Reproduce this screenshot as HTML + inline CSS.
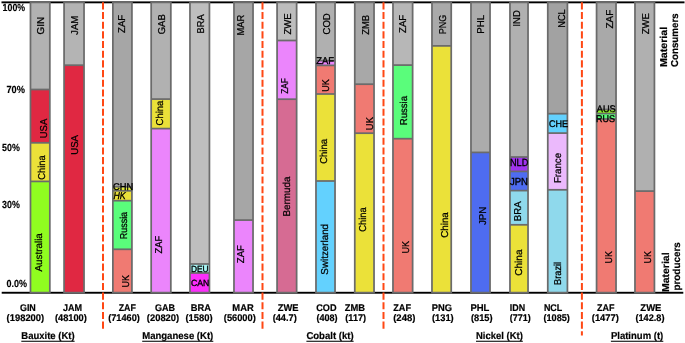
<!DOCTYPE html>
<html><head><meta charset="utf-8"><title>chart</title>
<style>
html,body{margin:0;padding:0;background:#fff;}
body{width:685px;height:343px;overflow:hidden;}
svg{display:block;will-change:transform;}
text{font-family:"Liberation Sans",sans-serif;fill:#000;text-rendering:geometricPrecision;}
.r{font-size:10px;stroke:#000;stroke-width:0.25px;}
.h{font-size:9px;stroke:#000;stroke-width:0.35px;}
.b{font-weight:bold;font-size:9.7px;stroke:#000;stroke-width:0.2px;}
.y{font-weight:bold;font-size:10.3px;stroke:#000;stroke-width:0.15px;}
</style></head><body>
<svg width="685" height="343" viewBox="0 0 685 343">
<rect x="1.5" y="1.4" width="683" height="1.9" fill="#000"/>
<rect x="1.7" y="291.8" width="681.6" height="1.9" fill="#000"/>
<line x1="103" y1="2.3" x2="103" y2="329" stroke="#ff4814" stroke-width="2" stroke-dasharray="7.1 2.575"/>
<line x1="262.5" y1="2.3" x2="262.5" y2="329" stroke="#ff4814" stroke-width="2" stroke-dasharray="7.1 2.575"/>
<line x1="383.5" y1="2.3" x2="383.5" y2="329" stroke="#ff4814" stroke-width="2" stroke-dasharray="7.1 2.575"/>
<line x1="581.9" y1="2.3" x2="581.9" y2="335.5" stroke="#ff4814" stroke-width="2" stroke-dasharray="7.1 2.575"/>
<g><rect x="29.6" y="1.5" width="21.1" height="292" fill="#6b6b6b"/><rect x="31.35" y="3.25" width="17.6" height="85.38" fill="#b2b2b2"/><rect x="31.35" y="90.38" width="17.6" height="51.55" fill="#e02842"/><rect x="31.35" y="143.68" width="17.6" height="36.85" fill="#ebe139"/><rect x="31.35" y="182.28" width="17.6" height="109.47" fill="#90fd20"/></g>
<g><rect x="63.2" y="1.5" width="21.7" height="292" fill="#6b6b6b"/><rect x="64.95" y="3.25" width="18.2" height="61.08" fill="#b4b4b4"/><rect x="64.95" y="66.08" width="18.2" height="225.68" fill="#e02842"/></g>
<g><rect x="112" y="1.5" width="20.8" height="292" fill="#6b6b6b"/><rect x="113.75" y="3.25" width="17.3" height="182.68" fill="#a6a6a6"/><rect x="113.75" y="187.68" width="17.3" height="2.25" fill="#e6ee3c"/><rect x="113.75" y="191.68" width="17.3" height="8.15" fill="#ebe139"/><rect x="113.75" y="201.57" width="17.3" height="46.85" fill="#5afd7b"/><rect x="113.75" y="250.18" width="17.3" height="41.57" fill="#f07a72"/></g>
<g><rect x="150.3" y="1.5" width="21.4" height="292" fill="#6b6b6b"/><rect x="152.05" y="3.25" width="17.9" height="94.97" fill="#b1b1b1"/><rect x="152.05" y="99.97" width="17.9" height="27.75" fill="#ebe139"/><rect x="152.05" y="129.47" width="17.9" height="162.28" fill="#eb85fc"/></g>
<g><rect x="189.1" y="1.5" width="21.2" height="292" fill="#6b6b6b"/><rect x="190.85" y="3.25" width="17.7" height="259.88" fill="#bebebe"/><rect x="190.85" y="264.88" width="17.7" height="7.25" fill="#a8f5f4"/><rect x="190.85" y="273.88" width="17.7" height="17.88" fill="#fc2efc"/></g>
<g><rect x="233.1" y="1.5" width="20.8" height="292" fill="#6b6b6b"/><rect x="234.85" y="3.25" width="17.3" height="215.97" fill="#a6a6a6"/><rect x="234.85" y="220.97" width="17.3" height="70.78" fill="#eb85fc"/></g>
<g><rect x="276.2" y="1.5" width="21.3" height="292" fill="#6b6b6b"/><rect x="277.95" y="3.25" width="17.8" height="36.38" fill="#bdbdbd"/><rect x="277.95" y="41.38" width="17.8" height="56.95" fill="#eb85fc"/><rect x="277.95" y="100.08" width="17.8" height="191.68" fill="#d66b93"/></g>
<g><rect x="315.1" y="1.5" width="20.8" height="292" fill="#6b6b6b"/><rect x="316.85" y="3.25" width="17.3" height="56.48" fill="#b0b0b0"/><rect x="316.85" y="61.48" width="17.3" height="3.05" fill="#eb85fc"/><rect x="316.85" y="66.28" width="17.3" height="26.85" fill="#f07a72"/><rect x="316.85" y="94.88" width="17.3" height="85.25" fill="#ebe139"/><rect x="316.85" y="181.88" width="17.3" height="109.88" fill="#63d1fe"/></g>
<g><rect x="353.9" y="1.5" width="21" height="292" fill="#6b6b6b"/><rect x="355.65" y="3.25" width="17.5" height="80.08" fill="#a8a8a8"/><rect x="355.65" y="85.08" width="17.5" height="47.25" fill="#f07a72"/><rect x="355.65" y="134.07" width="17.5" height="157.68" fill="#ebe139"/></g>
<g><rect x="392.1" y="1.5" width="21.4" height="292" fill="#6b6b6b"/><rect x="393.85" y="3.25" width="17.9" height="60.97" fill="#b7b7b7"/><rect x="393.85" y="65.97" width="17.9" height="71.85" fill="#5afd7b"/><rect x="393.85" y="139.57" width="17.9" height="152.18" fill="#f07a72"/></g>
<g><rect x="431.1" y="1.5" width="21" height="292" fill="#6b6b6b"/><rect x="432.85" y="3.25" width="17.5" height="41.77" fill="#aaaaaa"/><rect x="432.85" y="46.77" width="17.5" height="244.97" fill="#ebe139"/></g>
<g><rect x="470.1" y="1.5" width="20.8" height="292" fill="#6b6b6b"/><rect x="471.85" y="3.25" width="17.3" height="148.28" fill="#acacac"/><rect x="471.85" y="153.28" width="17.3" height="138.47" fill="#4e6cf0"/></g>
<g><rect x="509.1" y="1.5" width="19.8" height="292" fill="#6b6b6b"/><rect x="510.85" y="3.25" width="16.3" height="152.88" fill="#b0b0b0"/><rect x="510.85" y="157.88" width="16.3" height="12.65" fill="#a034ee"/><rect x="510.85" y="172.28" width="16.3" height="17.45" fill="#4e6cf0"/><rect x="510.85" y="191.47" width="16.3" height="32.45" fill="#8fd9ec"/><rect x="510.85" y="225.68" width="16.3" height="66.07" fill="#ebe139"/></g>
<g><rect x="546.9" y="1.5" width="21.4" height="292" fill="#6b6b6b"/><rect x="548.65" y="3.25" width="17.9" height="109.58" fill="#a2a2a2"/><rect x="548.65" y="114.58" width="17.9" height="17.65" fill="#63d1fe"/><rect x="548.65" y="133.97" width="17.9" height="54.95" fill="#ebb9fc"/><rect x="548.65" y="190.68" width="17.9" height="101.07" fill="#8fd9ec"/></g>
<g><rect x="595.7" y="1.5" width="21.2" height="292" fill="#6b6b6b"/><rect x="597.45" y="3.25" width="17.7" height="105.38" fill="#a9a9a9"/><rect x="597.45" y="110.38" width="17.7" height="2.25" fill="#90fd20"/><rect x="597.45" y="114.38" width="17.7" height="3.75" fill="#5afd7b"/><rect x="597.45" y="119.88" width="17.7" height="171.88" fill="#f07a72"/></g>
<g><rect x="634.1" y="1.5" width="21.2" height="292" fill="#6b6b6b"/><rect x="635.85" y="3.25" width="17.7" height="186.97" fill="#b0b0b0"/><rect x="635.85" y="191.97" width="17.7" height="99.78" fill="#f07a72"/></g>
<text class="r" transform="translate(40.8 25.7) rotate(-90)" x="0" y="3.54" text-anchor="middle" textLength="17.5" lengthAdjust="spacingAndGlyphs">GIN</text>
<text class="r" transform="translate(74.5 25.3) rotate(-90)" x="0" y="3.54" text-anchor="middle" textLength="19.2" lengthAdjust="spacingAndGlyphs">JAM</text>
<text class="r" transform="translate(43.1 128.5) rotate(-90)" x="0" y="3.54" text-anchor="middle" textLength="19.5" lengthAdjust="spacingAndGlyphs">USA</text>
<text class="r" transform="translate(41.1 167.5) rotate(-90)" x="0" y="3.54" text-anchor="middle" textLength="24.5" lengthAdjust="spacingAndGlyphs">China</text>
<text class="r" transform="translate(38.5 252.4) rotate(-90)" x="0" y="3.54" text-anchor="middle" textLength="38.4" lengthAdjust="spacingAndGlyphs">Australia</text>
<text class="r" transform="translate(74.4 144.9) rotate(-90)" x="0" y="3.54" text-anchor="middle" textLength="19.8" lengthAdjust="spacingAndGlyphs">USA</text>
<text class="r" transform="translate(121.2 23.9) rotate(-90)" x="0" y="3.54" text-anchor="middle" textLength="18.2" lengthAdjust="spacingAndGlyphs">ZAF</text>
<text class="r" transform="translate(123.6 225.6) rotate(-90)" x="0" y="3.54" text-anchor="middle" textLength="27.4" lengthAdjust="spacingAndGlyphs">Russia</text>
<text class="r" transform="translate(125 281.2) rotate(-90)" x="0" y="3.54" text-anchor="middle" textLength="12.5" lengthAdjust="spacingAndGlyphs">UK</text>
<text class="r" transform="translate(161.9 24.3) rotate(-90)" x="0" y="3.54" text-anchor="middle" textLength="20" lengthAdjust="spacingAndGlyphs">GAB</text>
<text class="r" transform="translate(159.5 113) rotate(-90)" x="0" y="3.54" text-anchor="middle" textLength="24.8" lengthAdjust="spacingAndGlyphs">China</text>
<text class="r" transform="translate(158.1 244.7) rotate(-90)" x="0" y="3.54" text-anchor="middle" textLength="17.5" lengthAdjust="spacingAndGlyphs">ZAF</text>
<text class="r" transform="translate(200 23.9) rotate(-90)" x="0" y="3.54" text-anchor="middle" textLength="19" lengthAdjust="spacingAndGlyphs">BRA</text>
<text class="r" transform="translate(240.9 25.2) rotate(-90)" x="0" y="3.54" text-anchor="middle" textLength="20.6" lengthAdjust="spacingAndGlyphs">MAR</text>
<text class="r" transform="translate(240.5 254.2) rotate(-90)" x="0" y="3.54" text-anchor="middle" textLength="17.9" lengthAdjust="spacingAndGlyphs">ZAF</text>
<text class="r" transform="translate(287.3 23.9) rotate(-90)" x="0" y="3.54" text-anchor="middle" textLength="21.2" lengthAdjust="spacingAndGlyphs">ZWE</text>
<text class="r" transform="translate(284.6 86) rotate(-90)" x="0" y="3.54" text-anchor="middle" textLength="15.7" lengthAdjust="spacingAndGlyphs">ZAF</text>
<text class="r" transform="translate(286.5 196.5) rotate(-90)" x="0" y="3.54" text-anchor="middle" textLength="40.1" lengthAdjust="spacingAndGlyphs">Bermuda</text>
<text class="r" transform="translate(326.3 23.9) rotate(-90)" x="0" y="3.54" text-anchor="middle" textLength="21.2" lengthAdjust="spacingAndGlyphs">COD</text>
<text class="r" transform="translate(325.6 85.6) rotate(-90)" x="0" y="3.54" text-anchor="middle" textLength="12.5" lengthAdjust="spacingAndGlyphs">UK</text>
<text class="r" transform="translate(323.8 151.4) rotate(-90)" x="0" y="3.54" text-anchor="middle" textLength="24.8" lengthAdjust="spacingAndGlyphs">China</text>
<text class="r" transform="translate(324.2 249.3) rotate(-90)" x="0" y="3.54" text-anchor="middle" textLength="50.7" lengthAdjust="spacingAndGlyphs">Switzerland</text>
<text class="r" transform="translate(365.1 24.8) rotate(-90)" x="0" y="3.54" text-anchor="middle" textLength="19.9" lengthAdjust="spacingAndGlyphs">ZMB</text>
<text class="r" transform="translate(369 123.6) rotate(-90)" x="0" y="3.54" text-anchor="middle" textLength="13.1" lengthAdjust="spacingAndGlyphs">UK</text>
<text class="r" transform="translate(362.8 219.6) rotate(-90)" x="0" y="3.54" text-anchor="middle" textLength="24.5" lengthAdjust="spacingAndGlyphs">China</text>
<text class="r" transform="translate(402.1 23.9) rotate(-90)" x="0" y="3.54" text-anchor="middle" textLength="18.2" lengthAdjust="spacingAndGlyphs">ZAF</text>
<text class="r" transform="translate(403.1 110.6) rotate(-90)" x="0" y="3.54" text-anchor="middle" textLength="29.4" lengthAdjust="spacingAndGlyphs">Russia</text>
<text class="r" transform="translate(405.2 247.3) rotate(-90)" x="0" y="3.54" text-anchor="middle" textLength="12.6" lengthAdjust="spacingAndGlyphs">UK</text>
<text class="r" transform="translate(442.2 24.6) rotate(-90)" x="0" y="3.54" text-anchor="middle" textLength="19.5" lengthAdjust="spacingAndGlyphs">PNG</text>
<text class="r" transform="translate(444 225) rotate(-90)" x="0" y="3.54" text-anchor="middle" textLength="25.6" lengthAdjust="spacingAndGlyphs">China</text>
<text class="r" transform="translate(480.4 24.3) rotate(-90)" x="0" y="3.54" text-anchor="middle" textLength="18.9" lengthAdjust="spacingAndGlyphs">PHL</text>
<text class="r" transform="translate(482.3 215.8) rotate(-90)" x="0" y="3.54" text-anchor="middle" textLength="18.5" lengthAdjust="spacingAndGlyphs">JPN</text>
<text class="r" transform="translate(516.8 18.4) rotate(-90)" x="0" y="3.54" text-anchor="middle" textLength="16.2" lengthAdjust="spacingAndGlyphs">IND</text>
<text class="r" transform="translate(517.9 211.3) rotate(-90)" x="0" y="3.54" text-anchor="middle" textLength="19.8" lengthAdjust="spacingAndGlyphs">BRA</text>
<text class="r" transform="translate(518.9 262.6) rotate(-90)" x="0" y="3.54" text-anchor="middle" textLength="26.3" lengthAdjust="spacingAndGlyphs">China</text>
<text class="r" transform="translate(561.4 18.5) rotate(-90)" x="0" y="3.54" text-anchor="middle" textLength="18.4" lengthAdjust="spacingAndGlyphs">NCL</text>
<text class="r" transform="translate(557.5 168) rotate(-90)" x="0" y="3.54" text-anchor="middle" textLength="30.2" lengthAdjust="spacingAndGlyphs">France</text>
<text class="r" transform="translate(557.2 273.4) rotate(-90)" x="0" y="3.54" text-anchor="middle" textLength="23" lengthAdjust="spacingAndGlyphs">Brazil</text>
<text class="r" transform="translate(609.9 19.1) rotate(-90)" x="0" y="3.54" text-anchor="middle" textLength="18.7" lengthAdjust="spacingAndGlyphs">ZAF</text>
<text class="r" transform="translate(608.7 257.2) rotate(-90)" x="0" y="3.54" text-anchor="middle" textLength="12.4" lengthAdjust="spacingAndGlyphs">UK</text>
<text class="r" transform="translate(645.4 23.8) rotate(-90)" x="0" y="3.54" text-anchor="middle" textLength="21.1" lengthAdjust="spacingAndGlyphs">ZWE</text>
<text class="r" transform="translate(647.2 257.2) rotate(-90)" x="0" y="3.54" text-anchor="middle" textLength="12.4" lengthAdjust="spacingAndGlyphs">UK</text>
<text class="h" style="font-size:9.8px" x="113" y="189.6" textLength="20.2" lengthAdjust="spacingAndGlyphs">CHN</text>
<text class="h" style="font-size:10px" x="113.4" y="199.1" textLength="12.2" lengthAdjust="spacingAndGlyphs" font-style="italic">HK</text>
<text class="h" style="font-size:9px" x="190.9" y="271.5" textLength="17.6" lengthAdjust="spacingAndGlyphs">DEU</text>
<text class="h" style="font-size:9px" x="190.9" y="286" textLength="18.3" lengthAdjust="spacingAndGlyphs">CAN</text>
<text class="h" style="font-size:9.8px" x="316.3" y="63.8" textLength="17.8" lengthAdjust="spacingAndGlyphs">ZAF</text>
<text class="h" style="font-size:10.4px" x="510" y="165.8" textLength="18.3" lengthAdjust="spacingAndGlyphs">NLD</text>
<text class="h" style="font-size:10.3px" x="510" y="184.9" textLength="18" lengthAdjust="spacingAndGlyphs">JPN</text>
<text class="h" style="font-size:9.6px" x="548.9" y="126.6" textLength="19.1" lengthAdjust="spacingAndGlyphs">CHE</text>
<text class="h" style="font-size:9.6px" x="596.8" y="111.9" textLength="18.9" lengthAdjust="spacingAndGlyphs">AUS</text>
<text class="h" style="font-size:9.8px" x="596" y="121.8" textLength="18.9" lengthAdjust="spacingAndGlyphs">RUS</text>
<text class="y" x="2.6" y="10.5" textLength="22.5" lengthAdjust="spacingAndGlyphs">100%</text>
<text class="y" x="6.4" y="92.6" textLength="18.5" lengthAdjust="spacingAndGlyphs">70%</text>
<text class="y" x="2.05" y="150.5" textLength="17.75" lengthAdjust="spacingAndGlyphs">50%</text>
<text class="y" x="2.05" y="208.4" textLength="17.75" lengthAdjust="spacingAndGlyphs">30%</text>
<text class="y" x="6.5" y="286.5" textLength="20.5" lengthAdjust="spacingAndGlyphs">0.0%</text>
<text class="b" x="27.9" y="310.5" text-anchor="middle" textLength="15.9" lengthAdjust="spacingAndGlyphs">GIN</text>
<text class="b" x="25.4" y="321.3" text-anchor="middle" textLength="37.6" lengthAdjust="spacingAndGlyphs">(198200)</text>
<text class="b" x="72.5" y="310.5" text-anchor="middle" textLength="19.1" lengthAdjust="spacingAndGlyphs">JAM</text>
<text class="b" x="70.9" y="321.3" text-anchor="middle" textLength="31.9" lengthAdjust="spacingAndGlyphs">(48100)</text>
<text class="b" x="127.3" y="310.5" text-anchor="middle" textLength="17.2" lengthAdjust="spacingAndGlyphs">ZAF</text>
<text class="b" x="124" y="321.3" text-anchor="middle" textLength="31.6" lengthAdjust="spacingAndGlyphs">(71460)</text>
<text class="b" x="165" y="310.5" text-anchor="middle" textLength="20.1" lengthAdjust="spacingAndGlyphs">GAB</text>
<text class="b" x="163" y="321.3" text-anchor="middle" textLength="32.3" lengthAdjust="spacingAndGlyphs">(20820)</text>
<text class="b" x="200.8" y="310.5" text-anchor="middle" textLength="20.3" lengthAdjust="spacingAndGlyphs">BRA</text>
<text class="b" x="199" y="321.3" text-anchor="middle" textLength="27.2" lengthAdjust="spacingAndGlyphs">(1580)</text>
<text class="b" x="243" y="310.5" text-anchor="middle" textLength="21.3" lengthAdjust="spacingAndGlyphs">MAR</text>
<text class="b" x="239.8" y="321.3" text-anchor="middle" textLength="32" lengthAdjust="spacingAndGlyphs">(56000)</text>
<text class="b" x="288.2" y="310.5" text-anchor="middle" textLength="20.8" lengthAdjust="spacingAndGlyphs">ZWE</text>
<text class="b" x="284.7" y="321.3" text-anchor="middle" textLength="24.1" lengthAdjust="spacingAndGlyphs">(44.7)</text>
<text class="b" x="326.4" y="310.5" text-anchor="middle" textLength="20.3" lengthAdjust="spacingAndGlyphs">COD</text>
<text class="b" x="327" y="321.3" text-anchor="middle" textLength="21.2" lengthAdjust="spacingAndGlyphs">(408)</text>
<text class="b" x="354.9" y="310.5" text-anchor="middle" textLength="20.3" lengthAdjust="spacingAndGlyphs">ZMB</text>
<text class="b" x="355.7" y="321.3" text-anchor="middle" textLength="20.7" lengthAdjust="spacingAndGlyphs">(117)</text>
<text class="b" x="402.1" y="310.5" text-anchor="middle" textLength="17.8" lengthAdjust="spacingAndGlyphs">ZAF</text>
<text class="b" x="404.3" y="321.3" text-anchor="middle" textLength="22.2" lengthAdjust="spacingAndGlyphs">(248)</text>
<text class="b" x="442" y="310.5" text-anchor="middle" textLength="20.3" lengthAdjust="spacingAndGlyphs">PNG</text>
<text class="b" x="442.8" y="321.3" text-anchor="middle" textLength="21.8" lengthAdjust="spacingAndGlyphs">(131)</text>
<text class="b" x="479.9" y="310.5" text-anchor="middle" textLength="19" lengthAdjust="spacingAndGlyphs">PHL</text>
<text class="b" x="481.8" y="321.3" text-anchor="middle" textLength="21.6" lengthAdjust="spacingAndGlyphs">(815)</text>
<text class="b" x="517.5" y="310.5" text-anchor="middle" textLength="15.3" lengthAdjust="spacingAndGlyphs">IDN</text>
<text class="b" x="520.3" y="321.3" text-anchor="middle" textLength="21" lengthAdjust="spacingAndGlyphs">(771)</text>
<text class="b" x="553.1" y="310.5" text-anchor="middle" textLength="18.4" lengthAdjust="spacingAndGlyphs">NCL</text>
<text class="b" x="556.7" y="321.3" text-anchor="middle" textLength="26.5" lengthAdjust="spacingAndGlyphs">(1085)</text>
<text class="b" x="605.8" y="310.5" text-anchor="middle" textLength="17.5" lengthAdjust="spacingAndGlyphs">ZAF</text>
<text class="b" x="605.3" y="321.3" text-anchor="middle" textLength="27" lengthAdjust="spacingAndGlyphs">(1477)</text>
<text class="b" x="650.9" y="310.5" text-anchor="middle" textLength="21.1" lengthAdjust="spacingAndGlyphs">ZWE</text>
<text class="b" x="650" y="321.3" text-anchor="middle" textLength="29.1" lengthAdjust="spacingAndGlyphs">(142.8)</text>
<text class="b" style="font-size:10px" x="21.3" y="338.8" textLength="53.3" lengthAdjust="spacingAndGlyphs">Bauxite (Kt)</text>
<rect x="21.3" y="340.7" width="53.3" height="1.2" fill="#222"/>
<text class="b" style="font-size:10px" x="142.2" y="338.8" textLength="71.1" lengthAdjust="spacingAndGlyphs">Manganese (Kt)</text>
<rect x="142.2" y="340.7" width="71.1" height="1.2" fill="#222"/>
<text class="b" style="font-size:10px" x="306.4" y="338.8" textLength="47.2" lengthAdjust="spacingAndGlyphs">Cobalt (kt)</text>
<rect x="306.4" y="340.7" width="47.2" height="1.2" fill="#222"/>
<text class="b" style="font-size:10px" x="476" y="338.8" textLength="46.8" lengthAdjust="spacingAndGlyphs">Nickel (Kt)</text>
<rect x="476" y="340.7" width="46.8" height="1.2" fill="#222"/>
<text class="b" style="font-size:10px" x="610.9" y="338.8" textLength="52.4" lengthAdjust="spacingAndGlyphs">Platinum (t)</text>
<rect x="610.9" y="340.7" width="52.4" height="1.2" fill="#222"/>
<text class="b" style="font-size:10px" transform="translate(667 67) rotate(-90)" x="0" y="0" textLength="40.2" lengthAdjust="spacingAndGlyphs">Material</text>
<text class="b" style="font-size:10px" transform="translate(678 67) rotate(-90)" x="0" y="0" textLength="53.6" lengthAdjust="spacingAndGlyphs">Consumers</text>
<text class="b" style="font-size:10px" transform="translate(668.8 292) rotate(-90)" x="0" y="0" textLength="39.6" lengthAdjust="spacingAndGlyphs">Material</text>
<text class="b" style="font-size:10px" transform="translate(680.4 290.6) rotate(-90)" x="0" y="0" textLength="48.4" lengthAdjust="spacingAndGlyphs">producers</text>
</svg>
</body></html>
